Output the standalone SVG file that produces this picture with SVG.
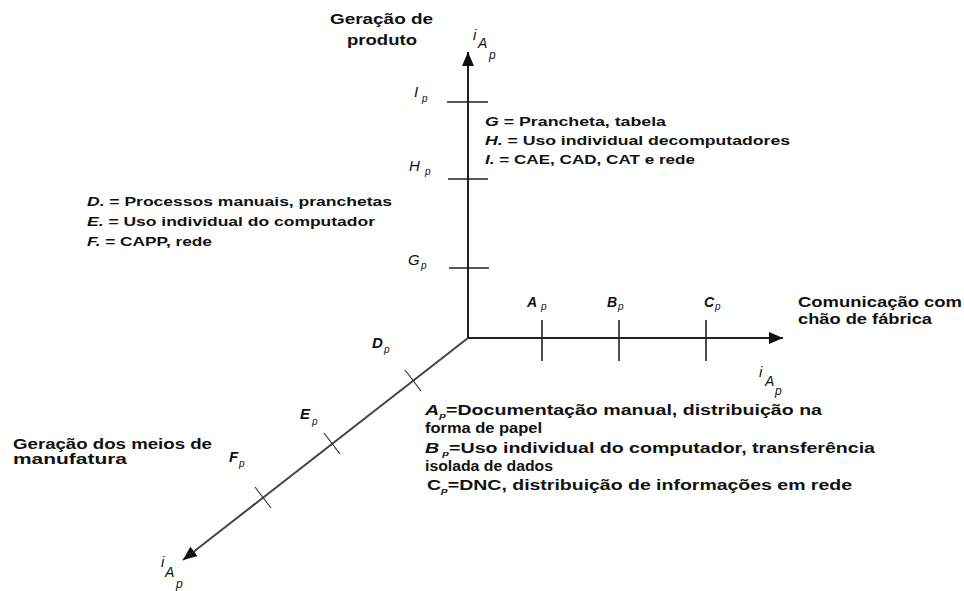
<svg xmlns="http://www.w3.org/2000/svg" width="964" height="591" viewBox="0 0 964 591">
<style>
text{font-family:"Liberation Sans",Arial,sans-serif;fill:#111}
.t{font-size:13px;font-weight:bold}
.h{font-size:14px;font-weight:bold}
.lb{font-size:15px;font-style:italic}
.sb{font-size:10px;font-style:italic}
.ss{font-size:8px;font-style:italic}
.ax{stroke:#222;stroke-width:2;fill:none}
.tk{stroke:#222;stroke-width:1.6;fill:none}
.dg{stroke:#444;stroke-width:2;fill:none}
.dt{stroke:#333;stroke-width:1.2;fill:none}
</style>
<defs>
<marker id="ah" markerUnits="userSpaceOnUse" markerWidth="14" markerHeight="12" refX="14" refY="6" orient="auto">
<path d="M0,0 L14,6 L0,12 z" fill="#111"/>
</marker>
</defs>
<rect width="964" height="591" fill="#fff"/>
<g id="connectors">
<line class="ax" x1="468" y1="339" x2="468" y2="52" marker-end="url(#ah)"/>
<line class="ax" x1="467" y1="338" x2="783" y2="338" marker-end="url(#ah)"/>
<line class="dg" x1="468" y1="338" x2="183" y2="560" marker-end="url(#ah)"/>
<line class="tk" x1="447" y1="102" x2="488" y2="102"/>
<line class="tk" x1="448" y1="179" x2="488" y2="179"/>
<line class="tk" x1="449" y1="268" x2="489" y2="268"/>
<line class="tk" x1="542" y1="320" x2="542" y2="361"/>
<line class="tk" x1="619" y1="320" x2="619" y2="361"/>
<line class="tk" x1="706" y1="320" x2="706" y2="361"/>
<line class="dt" x1="405" y1="370" x2="421" y2="391"/>
<line class="dt" x1="324" y1="433" x2="340" y2="454"/>
<line class="dt" x1="255" y1="487" x2="271" y2="508"/>
</g>
<g id="axis-vertical-title">
<text class="h" x="330" y="24" textLength="103" lengthAdjust="spacingAndGlyphs">Geração de</text>
<text class="h" x="347" y="45" textLength="70" lengthAdjust="spacingAndGlyphs">produto</text>
<text class="lb" x="473" y="40">i</text><text x="478" y="48" style="font-size:14px;font-style:italic">A</text><text x="489" y="59" style="font-size:12px;font-style:italic">p</text>
</g>
<g id="tick-I"><text class="lb" x="414" y="97">I</text><text class="sb" x="422" y="102">p</text></g>
<g id="tick-H"><text class="lb" x="409" y="171">H</text><text class="sb" x="425" y="175">p</text></g>
<g id="tick-G"><text class="lb" x="408" y="265">G</text><text class="sb" x="421" y="269">p</text></g>
<g id="legend-GHI">
<text class="t" x="485" y="126" textLength="181" lengthAdjust="spacingAndGlyphs"><tspan font-style="italic">G</tspan>  = Prancheta, tabela</text>
<text class="t" x="485" y="145" textLength="305" lengthAdjust="spacingAndGlyphs"><tspan font-style="italic">H.</tspan> = Uso individual decomputadores</text>
<text class="t" x="485" y="164" textLength="210" lengthAdjust="spacingAndGlyphs"><tspan font-style="italic">I.</tspan> = CAE, CAD, CAT e rede</text>
</g>
<g id="legend-DEF">
<text class="t" x="87" y="206" textLength="305" lengthAdjust="spacingAndGlyphs"><tspan font-style="italic">D.</tspan> =  Processos manuais, pranchetas</text>
<text class="t" x="87" y="226" textLength="288" lengthAdjust="spacingAndGlyphs"><tspan font-style="italic">E.</tspan> =  Uso individual do computador</text>
<text class="t" x="87" y="246" textLength="125" lengthAdjust="spacingAndGlyphs"><tspan font-style="italic">F.</tspan> = CAPP, rede</text>
</g>
<g id="tick-A"><text class="h" x="527" y="307" font-style="italic">A</text><text class="sb" x="541" y="310">p</text></g>
<g id="tick-B"><text class="h" x="607" y="307" font-style="italic">B</text><text class="sb" x="618" y="310">p</text></g>
<g id="tick-C"><text class="h" x="704" y="307" font-style="italic">C</text><text class="sb" x="715" y="310">p</text></g>
<g id="axis-horizontal-title">
<text class="h" x="798" y="307" textLength="164" lengthAdjust="spacingAndGlyphs">Comunicação com</text>
<text class="h" x="798" y="324" textLength="134" lengthAdjust="spacingAndGlyphs">chão de fábrica</text>
<text class="lb" x="759" y="377">i</text><text x="765" y="386" style="font-size:14px;font-style:italic">A</text><text x="775" y="395" style="font-size:12px;font-style:italic">p</text>
</g>
<g id="tick-D"><text class="lb" x="372" y="348" font-weight="bold">D</text><text class="sb" x="384" y="353">p</text></g>
<g id="tick-E"><text class="lb" x="300" y="419" font-weight="bold">E</text><text class="sb" x="312" y="425">p</text></g>
<g id="tick-F"><text class="lb" x="229" y="462" font-weight="bold">F</text><text class="sb" x="239" y="467">p</text></g>
<g id="axis-diagonal-title">
<text class="h" x="13" y="449" textLength="199" lengthAdjust="spacingAndGlyphs">Geração dos meios de</text>
<text class="h" x="13" y="464" textLength="114" lengthAdjust="spacingAndGlyphs">manufatura</text>
<text class="lb" x="161" y="567">i</text><text x="165" y="577" style="font-size:14px;font-style:italic">A</text><text x="176" y="588" style="font-size:12px;font-style:italic">p</text>
</g>
<g id="legend-ABC">
<text class="h" x="425" y="415" textLength="397" lengthAdjust="spacingAndGlyphs"><tspan font-style="italic">A</tspan><tspan class="ss" dy="3">p</tspan><tspan dy="-3">=Documentação manual, distribuição na</tspan></text>
<text class="h" x="425" y="433" textLength="117" lengthAdjust="spacingAndGlyphs">forma de papel</text>
<text class="h" x="425" y="453" textLength="450" lengthAdjust="spacingAndGlyphs"><tspan font-style="italic">B</tspan><tspan class="ss" dy="3"> p</tspan><tspan dy="-3">=Uso individual  do computador, transferência</tspan></text>
<text class="h" x="425" y="471" textLength="128" lengthAdjust="spacingAndGlyphs">isolada de dados</text>
<text class="h" x="427" y="490" textLength="425" lengthAdjust="spacingAndGlyphs">C<tspan class="ss" dy="3">p</tspan><tspan dy="-3">=DNC, distribuição  de informações em rede</tspan></text>
</g>
</svg>
